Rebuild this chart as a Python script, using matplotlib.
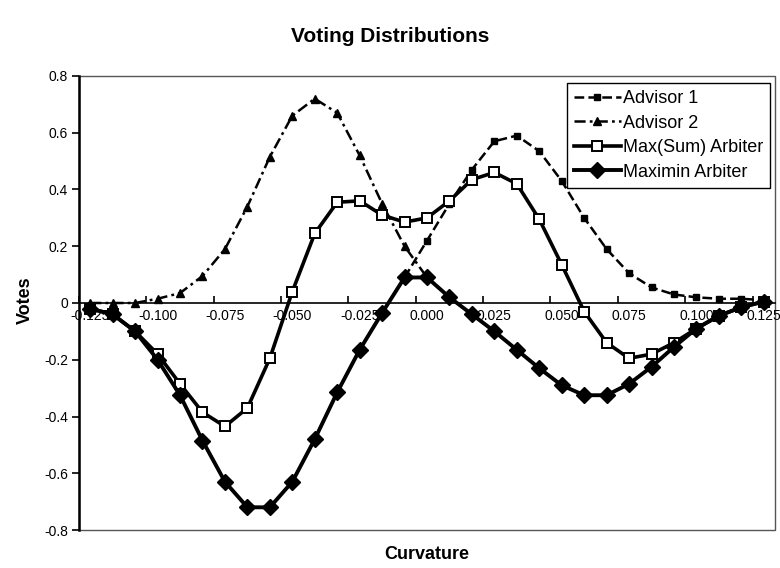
import matplotlib
matplotlib.use("Agg")
import matplotlib.pyplot as plt
from matplotlib.patches import Rectangle

plt.rcParams["font.family"] = ["Liberation Sans", "DejaVu Sans"]
plt.rcParams["lines.scale_dashes"] = False

nan = float("nan")

# Curvature categories (one per sample)
curvature = [-0.1250, -0.1167, -0.1083, -0.1000, -0.0917, -0.0833, -0.0750, -0.0667,
             -0.0583, -0.0500, -0.0417, -0.0333, -0.0250, -0.0167, -0.0083, 0.0000,
             0.0083, 0.0167, 0.0250, 0.0333, 0.0417, 0.0500, 0.0583, 0.0667,
             0.0750, 0.0833, 0.0917, 0.1000, 0.1083, 0.1167, 0.1250]

# advisor votes (blank where an advisor casts no vote)
advisor1 = [nan, nan, nan, nan, nan, nan, nan, nan, nan, nan, nan,
            nan, nan, nan, 0.09, 0.22, 0.35, 0.47, 0.57, 0.59, 0.535, 0.43,
            0.30, 0.19, 0.105, 0.055, 0.03, 0.02, 0.015, 0.015, 0.01]

advisor2 = [0.00, 0.00, 0.00, 0.015, 0.035, 0.095, 0.19, 0.34, 0.515, 0.66, 0.72,
            0.67, 0.52, 0.35, 0.20, 0.09, nan, nan, nan, nan, nan, nan,
            nan, nan, nan, nan, nan, nan, nan, nan, nan]

max_sum = [-0.02, -0.04, -0.10, -0.18, -0.285, -0.385, -0.435, -0.37, -0.195, 0.04,
           0.245, 0.355, 0.36, 0.31, 0.285, 0.30, 0.36, 0.435, 0.46, 0.42, 0.295,
           0.135, -0.03, -0.14, -0.195, -0.18, -0.14, -0.09, -0.045, -0.015, 0.005]

maximin = [-0.02, -0.04, -0.10, -0.20, -0.325, -0.485, -0.63, -0.72, -0.72, -0.63,
           -0.48, -0.315, -0.165, -0.035, 0.09, 0.09, 0.02, -0.04, -0.10, -0.165,
           -0.23, -0.29, -0.325, -0.325, -0.285, -0.225, -0.155, -0.09, -0.045,
           -0.015, 0.005]

x_tick_labels = ["-0.125", "-0.100", "-0.075", "-0.050", "-0.025", "0.000",
                 "0.025", "0.050", "0.075", "0.100", "0.125"]
y_ticks = [-0.8, -0.6, -0.4, -0.2, 0.0, 0.2, 0.4, 0.6, 0.8]
y_tick_labels = ["-0.8", "-0.6", "-0.4", "-0.2", "0", "0.2", "0.4", "0.6", "0.8"]

fig = plt.figure(figsize=(7.8, 5.68), dpi=100)
ax = fig.add_axes([0.1013, 0.0669, 0.8923, 0.7993])

idx = list(range(len(curvature)))

ax.plot(idx, advisor1, color="black", lw=1.8, dashes=(7, 3),
        marker="s", ms=5, mfc="black", mec="black", label="Advisor 1", zorder=3)
ax.plot(idx, advisor2, color="black", lw=1.8, dashes=(8, 3, 2, 3),
        marker="^", ms=6, mfc="black", mec="black", label="Advisor 2", zorder=3)
ax.plot(idx, max_sum, color="black", lw=2.6, marker="s", ms=7.5,
        mfc="white", mec="black", mew=1.4, label="Max(Sum) Arbiter", zorder=4)
ax.plot(idx, maximin, color="black", lw=2.8, marker="D", ms=8,
        mfc="black", mec="black", label="Maximin Arbiter", zorder=5)

ax.set_xlim(-0.5, len(curvature) - 0.5)
ax.set_ylim(-0.8, 0.8)

# category axis: tick marks between every third category, labels on categories
ax.set_xticks([-0.5 + 3 * k for k in range(11)])
ax.set_xticklabels([])
ax.tick_params(axis="x", which="major", direction="in", length=5, width=1.2, color="black")
ax.set_xticks(idx[::3], minor=True)
ax.set_xticklabels(x_tick_labels, minor=True)
ax.tick_params(axis="x", which="minor", length=0, pad=4, labelsize=10)

ax.set_yticks(y_ticks)
ax.set_yticklabels(y_tick_labels)
ax.tick_params(axis="y", direction="out", length=5, width=1.2, pad=3, labelsize=10)

for s in ("top", "right"):
    ax.spines[s].set_visible(False)
ax.spines["bottom"].set_position(("data", 0))
ax.spines["bottom"].set_linewidth(1.2)
ax.spines["left"].set_linewidth(1.8)

ax.add_patch(Rectangle((0, 0), 1, 1, transform=ax.transAxes, fill=False,
                       edgecolor="#555555", lw=1.0, zorder=1, clip_on=False))

leg = ax.legend(loc="upper right", bbox_to_anchor=(0.993, 0.985), borderaxespad=0,
                fontsize=13, frameon=True, fancybox=False, framealpha=1,
                edgecolor="black", handlelength=2.6, handletextpad=0.1,
                labelspacing=0.42, borderpad=0.4)
leg.get_frame().set_linewidth(1.0)

fig.text(0.5, 0.935, "Voting Distributions", ha="center", va="center",
         fontsize=15, fontweight="bold")
fig.text(0.547, 0.023, "Curvature", ha="center", va="center",
         fontsize=13, fontweight="bold")
fig.text(0.032, 0.472, "Votes", ha="center", va="center", rotation=90,
         fontsize=13, fontweight="bold")

fig.savefig("out.png", dpi=100)
